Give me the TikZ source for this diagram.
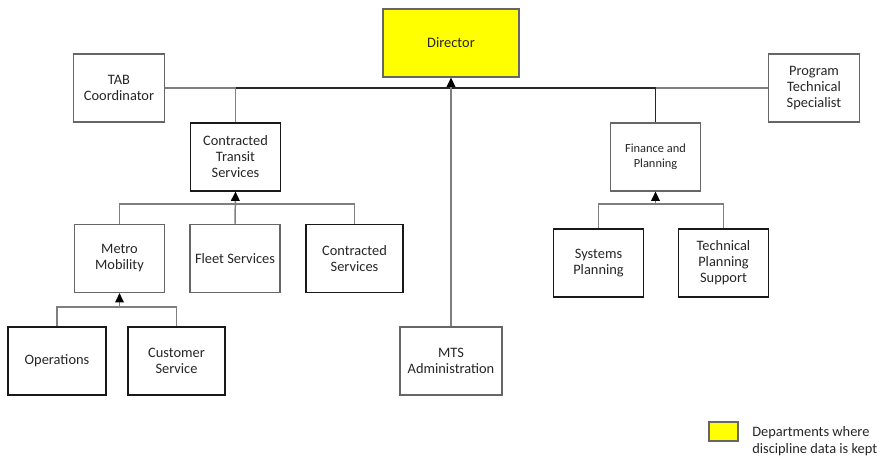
\documentclass[tikz,border=0pt]{standalone}
\usepackage{fontspec}
\setmainfont{Carlito}
\usetikzlibrary{arrows.meta}
\definecolor{linegray}{HTML}{7F7F7F}
\definecolor{boxgray}{HTML}{666666}
\definecolor{legendyellow}{HTML}{FFFF00}
\tikzset{
  box/.style={draw=boxgray, line width=0.9pt, fill=white, align=center,
    minimum width=68pt, minimum height=51pt, inner sep=1pt,
    font=\fontsize{10.8}{12}\selectfont, text=black!85},
  darkbox/.style={box, draw=black!90, line width=0.8pt},
  conn/.style={draw=linegray, line width=1.1pt},
  mainconn/.style={draw=black!85, line width=1pt},
  uparrow/.style={conn, -{Triangle[length=7pt,width=6.5pt,black]}},
}
\begin{document}
\begin{tikzpicture}[x=0.75pt, y=-0.75pt]
\useasboundingbox (0,0) rectangle (887,456);

% top level
\node[box, fill=legendyellow, minimum width=102pt] (dir) at (451,43) {Director};
\node[box] (tab) at (119,88) {TAB\\Coordinator};
\node[box] (pts) at (814,88) {Program\\Technical\\Specialist};

% second level
\node[darkbox] (cts) at (235.5,157) {Contracted\\Transit\\Services};
\node[box, font=\fontsize{9.3}{11.25}\selectfont] (fp) at (655.5,157) {Finance and\\Planning};

% contracted transit branch
\node[box] (mm) at (119.5,258.5) {Metro\\Mobility};
\node[box, minimum width=67.5pt] (fs) at (235,258.5) {Fleet Services};
\node[darkbox, minimum width=72.75pt] (cs) at (354.5,258.5) {Contracted\\Services};

% metro mobility branch
\node[darkbox, minimum width=73.5pt] (ops) at (57,361) {Operations};
\node[darkbox, minimum width=72.75pt] (csv) at (176.5,361) {Customer\\Service};

% finance and planning branch
\node[darkbox] (sp) at (598.5,263) {Systems\\Planning};
\node[darkbox] (tps) at (723.5,263) {Technical\\Planning\\Support};

% administration
\node[box, minimum width=76.5pt] (mts) at (451,361) {MTS\\Administration};

% junction points
\coordinate (jcts) at (235.5,88);
\coordinate (jfp) at (655.5,88);
\coordinate (bcts) at (235.5,204);
\coordinate (bmm) at (119.5,307);
\coordinate (bfp) at (655.5,204);

% staff line across the top
\draw[conn] (tab.east) -- (jcts);
\draw[conn] (jfp) -- (pts.west);
\draw[conn] (cts.north) -- (jcts);
\draw[mainconn] (jcts) -- (jfp);
\draw[mainconn] (fp.north) -- (jfp);
\draw[uparrow] (mts.north) -- (dir.south);

% reporting lines
\draw[conn] (mm.north) |- (bcts) -| (cs.north);
\draw[uparrow] (fs.north) -- (cts.south);
\draw[conn] (ops.north) |- (bmm) -| (csv.north);
\draw[uparrow] (bmm) -- (mm.south);
\draw[conn] (sp.north) |- (bfp) -| (tps.north);
\draw[uparrow] (bfp) -- (fp.south);

% legend
\node[draw=boxgray, line width=0.9pt, fill=legendyellow, minimum width=21.75pt, minimum height=14.25pt, inner sep=0pt] (key) at (723.5,431.5) {};
\node[anchor=west, align=left, inner sep=0pt, font=\fontsize{10.8}{12.75}\selectfont, text=black!85] (keytext) at (752,441) {Departments where\\discipline data is kept};
\end{tikzpicture}
\end{document}
